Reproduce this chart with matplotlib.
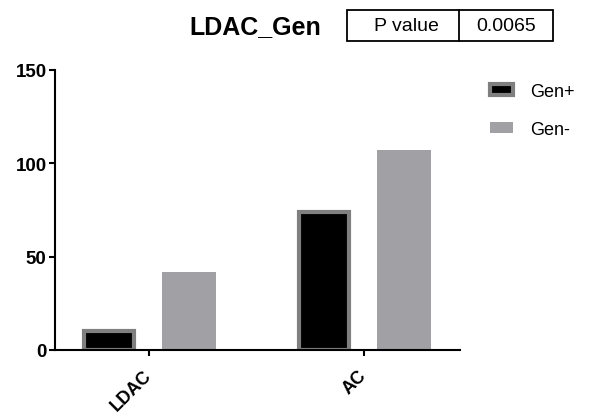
import numpy as np
import matplotlib.pyplot as plt
from matplotlib.patches import Rectangle
from matplotlib.lines import Line2D

plt.rcParams['font.family'] = ['Liberation Sans', 'DejaVu Sans']

# data
groups = ['LDAC', 'AC']
gen_pos = [10, 74]
gen_neg = [42, 107]
series = ['Gen+', 'Gen-']
title = 'LDAC_Gen'
p_label = 'P value'
p_value = '0.0065'

fig = plt.figure(figsize=(5.9, 4.14), dpi=100)
ax = fig.add_axes([55 / 590, 1 - 351 / 414, 405 / 590, 280.3 / 414])

x = np.arange(len(groups))
off = 0.187
ax.bar(x - off, gen_pos, width=0.232, color='black', edgecolor='#7f7f7f',
       linewidth=3, label=series[0])
ax.bar(x + off, gen_neg, width=0.25, color='#a1a1a5', edgecolor='none',
       label=series[1])

ax.set_xlim(-0.437, 1.447)
ax.set_ylim(0, 150)
ax.set_yticks([0, 50, 100, 150])
ax.set_xticks(x)
ax.set_xticklabels(groups, rotation=45, ha='right', va='center',
                   rotation_mode='anchor', fontsize=13, fontweight='bold')
for lab in ax.get_yticklabels():
    lab.set_fontsize(13.5)
    lab.set_fontweight('bold')

for s in ['top', 'right']:
    ax.spines[s].set_visible(False)
for s in ['left', 'bottom']:
    ax.spines[s].set_linewidth(1.5)
ax.tick_params(width=1.5, length=4, pad=2)
ax.tick_params(axis='x', pad=12)

# legend
ax.legend(loc='upper left', bbox_to_anchor=(490 / 590, 1 - 84 / 414),
          bbox_transform=fig.transFigure, frameon=False, fontsize=13,
          handlelength=1.25, handleheight=0.55, handletextpad=0.95,
          labelspacing=1.15, borderpad=0, borderaxespad=0)

# title and p value box
fig.text(255 / 590, 1 - 27 / 414, title, fontsize=18, fontweight='bold',
         ha='center', va='center')
x0, xd, x1 = 347 / 590, 459 / 590, 553 / 590
y0, y1 = 1 - 42 / 414, 1 - 11 / 414
fig.add_artist(Rectangle((x0, y0), x1 - x0, y1 - y0, transform=fig.transFigure,
                         fill=False, edgecolor='black', linewidth=1.3))
fig.add_artist(Line2D([xd, xd], [y0, y1], transform=fig.transFigure,
                      color='black', linewidth=1.3))
fig.text((x0 + xd) / 2 + 0.005, (y0 + y1) / 2, p_label, fontsize=14,
         ha='center', va='center')
fig.text((xd + x1) / 2, (y0 + y1) / 2, p_value, fontsize=14,
         ha='center', va='center')

fig.savefig('out.png', dpi=100)
